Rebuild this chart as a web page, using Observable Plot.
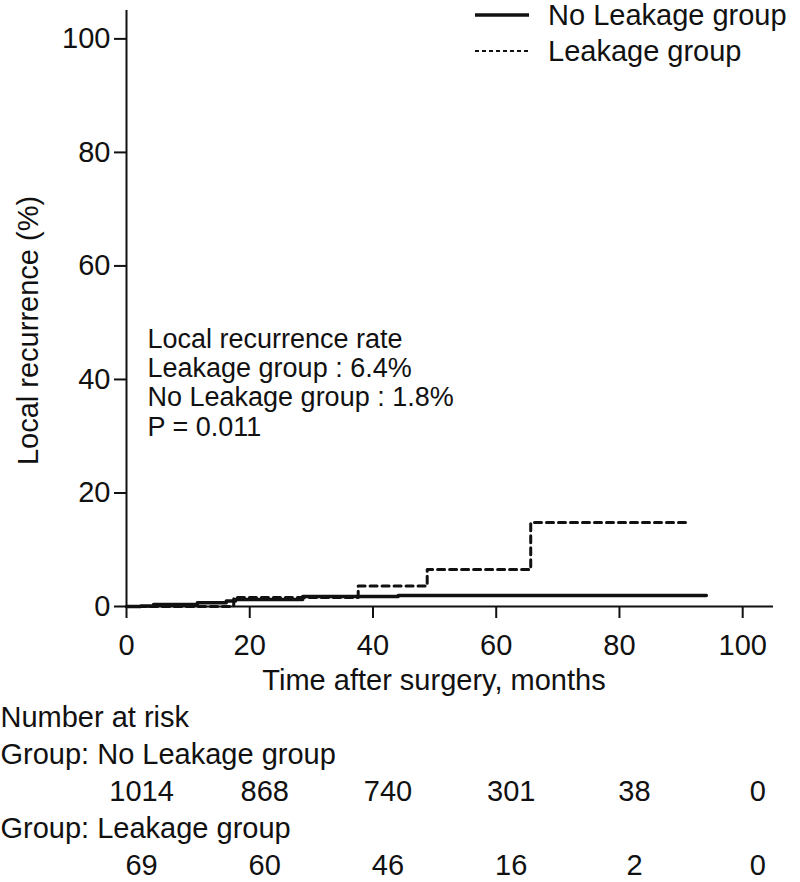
<!DOCTYPE html>
<html><head><meta charset="utf-8">
<script src="https://cdn.jsdelivr.net/npm/d3@7"></script>
<script src="https://cdn.jsdelivr.net/npm/@observablehq/plot@0.6"></script>
<style>
body{margin:0;background:#fff;}
#chart svg{display:block;}
</style></head><body><div id="chart"></div>
<script>
// ---- data ----
const noLeakMonths = [0, 2.3, 4.4, 11.5, 16.2, 17.7, 28.6, 44.1, 94.1];
const noLeakRisk   = [0, 0.1, 0.35, 0.65, 0.95, 1.25, 1.75, 1.95, 1.95];
const leakMonths   = [0, 17.4, 37.6, 48.8, 65.6, 91.2];
const leakRisk     = [0, 1.6, 3.6, 6.5, 14.8, 14.8];

const xTicks = [0, 20, 40, 60, 80, 100];
const yTicks = [0, 20, 40, 60, 80, 100];

const groupNames = ["No Leakage group", "Leakage group"];
const annotLines = ["Local recurrence rate", "Leakage group : 6.4%", "No Leakage group : 1.8%", "P = 0.011"];

const riskTimes    = [0, 20, 40, 60, 80, 100];
const noLeakAtRisk = [1014, 868, 740, 301, 38, 0];
const leakAtRisk   = [69, 60, 46, 16, 2, 0];

const yLabel = "Local recurrence (%)";
const xLabel = "Time after surgery, months";

// ---- build ----
const font = '"Liberation Sans", Arial, Helvetica, sans-serif';
const ink = "#111";
const noLeak = noLeakMonths.map((t, i) => ({t, r: noLeakRisk[i]}));
const leak = leakMonths.map((t, i) => ({t, r: leakRisk[i]}));

const main = Plot.plot({
  width: 800, height: 700,
  marginLeft: 126, marginRight: 27, marginTop: 10, marginBottom: 94,
  style: {fontFamily: font, background: "#fff", color: ink, overflow: "visible"},
  x: {domain: [0, 105]},
  y: {domain: [0, 105]},
  marks: [
    Plot.axisY({ticks: yTicks, tickSize: 12, tickPadding: 4, fontSize: 29, label: null, strokeWidth: 2}),
    Plot.axisX({ticks: xTicks, tickSize: 12, tickPadding: 16, fontSize: 29, label: null, strokeWidth: 2}),
    Plot.ruleX([0], {y1: 0, y2: 105, strokeWidth: 2, stroke: ink}),
    Plot.ruleY([0], {x1: 0, x2: 105, strokeWidth: 2, stroke: ink}),
    Plot.line(noLeak, {x: "t", y: "r", curve: "step-after", stroke: ink, strokeWidth: 3.5}),
    Plot.line(leak, {x: "t", y: "r", curve: "step-after", stroke: ink, strokeWidth: 3, strokeDasharray: "7,5"}),
    Plot.text([annotLines.join("\n")], {frameAnchor: "left", textAnchor: "start", dx: 21, dy: 74, fontSize: 27, lineHeight: 1.08, fill: ink}),
    Plot.text([yLabel], {frameAnchor: "left", textAnchor: "middle", lineAnchor: "middle", rotate: -90, dx: -98, dy: 22, fontSize: 29, fill: ink}),
    Plot.text([xLabel], {frameAnchor: "bottom", textAnchor: "middle", lineAnchor: "middle", dx: -16, dy: 74, fontSize: 29, fill: ink})
  ]
});

// legend (top-right, inside the svg)
const svg = d3.select(main);
const legend = [
  {name: groupNames[0], width: 3.5, dash: null, y: 15},
  {name: groupNames[1], width: 1.8, dash: "4,3", y: 51}
];
const lg = svg.append("g").attr("font-family", font).attr("font-size", 29).attr("fill", ink).attr("text-anchor", "start");
legend.forEach(d => {
  lg.append("line").attr("x1", 475).attr("x2", 529).attr("y1", d.y).attr("y2", d.y)
    .attr("stroke", ink).attr("stroke-width", d.width).attr("stroke-dasharray", d.dash);
  lg.append("text").attr("x", 548).attr("y", d.y).attr("dy", "0.35em").attr("text-anchor", "start").text(d.name);
});

// number at risk table
const rows = ["head", "g1", "n1", "g2", "n2"];
const rowLabels = [
  {row: "head", label: "Number at risk"},
  {row: "g1", label: "Group: " + groupNames[0]},
  {row: "g2", label: "Group: " + groupNames[1]}
];
const riskData = [
  ...riskTimes.map((t, i) => ({t, n: String(noLeakAtRisk[i]), row: "n1"})),
  ...riskTimes.map((t, i) => ({t, n: String(leakAtRisk[i]), row: "n2"}))
];
const table = Plot.plot({
  width: 800, height: 182,
  marginLeft: 126, marginRight: 27, marginTop: 0, marginBottom: 0,
  style: {fontFamily: font, background: "#fff", color: ink, overflow: "visible"},
  x: {domain: [0, 105], axis: null},
  y: {type: "point", domain: rows, range: [17, 165], padding: 0, axis: null},
  marks: [
    Plot.text(rowLabels, {y: "row", text: "label", frameAnchor: "left", textAnchor: "start", dx: -126, fontSize: 29, fill: ink}),
    Plot.text(riskData, {x: "t", y: "row", text: "n", dx: 15, fontSize: 29, fill: ink})
  ]
});

document.getElementById("chart").append(main, table);
</script></body></html>
